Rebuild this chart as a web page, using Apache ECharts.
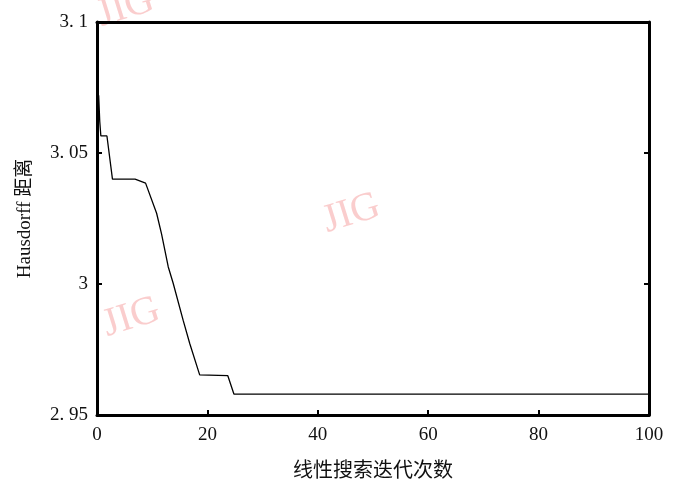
<!DOCTYPE html>
<html>
<head>
<meta charset="utf-8">
<script src="https://cdn.jsdelivr.net/npm/echarts@6/dist/echarts.min.js"></script>
<style>
  html, body { margin: 0; padding: 0; background: #fff; }
  #chart { width: 681px; height: 484px; }
</style>
</head>
<body>
<div id="chart"></div>
<script>
// iteration number and distance (key points of the curve)
var iterations = [0.3, 0.5, 0.7, 1.8, 2.8, 6.9, 8.8, 10.8, 11.7, 12.9, 13.8, 15.6, 16.8, 18.6, 23.7, 24.8, 100];
var distance = [3.072, 3.062, 3.0565, 3.0565, 3.040, 3.040, 3.0385, 3.027, 3.019, 3.0066, 3.0003, 2.9862, 2.9773, 2.9653, 2.9650, 2.958, 2.958];

var serif = '"Liberation Serif", "DejaVu Serif", serif';
var chart = echarts.init(document.getElementById('chart'));

var points = iterations.map(function (x, i) { return [x, distance[i]]; });

function yLabel(v) {
    // the figure prints decimals with a gap after the point
    return String(+v.toFixed(2)).replace('.', '. ');
}

var frame = { show: true, onZero: false, lineStyle: { color: '#000', width: 3 } };
var ticks = { inside: true, length: 5, lineStyle: { color: '#000', width: 2 } };
var mark = 'rgba(242,130,130,0.4)';

chart.setOption({
    animation: false,
    grid: { left: 97, right: 32, top: 22, bottom: 69 },
    xAxis: [{
        type: 'value', min: 0, max: 100, interval: 20,
        axisLine: frame, axisTick: ticks,
        axisLabel: { color: '#111', fontFamily: serif, fontSize: 19, margin: 11 },
        splitLine: { show: false },
        name: '线性搜索迭代次数', nameLocation: 'middle', nameGap: 44,
        nameTextStyle: { color: '#111', fontSize: 20, fontFamily: '"Noto Sans CJK SC", sans-serif' }
    }, {
        type: 'value', position: 'top', min: 0, max: 100, interval: 20,
        axisLine: frame, axisTick: { show: false }, axisLabel: { show: false }, splitLine: { show: false }
    }],
    yAxis: [{
        type: 'value', min: 2.95, max: 3.1, interval: 0.05,
        axisLine: frame, axisTick: ticks,
        axisLabel: { color: '#111', fontFamily: serif, fontSize: 19, margin: 9, formatter: yLabel },
        splitLine: { show: false },
        name: 'Hausdorff 距离', nameLocation: 'middle', nameGap: 62, nameRotate: 90,
        nameTextStyle: { color: '#111', fontSize: 19, fontFamily: '"Liberation Serif", "Noto Sans CJK SC", serif' }
    }, {
        type: 'value', position: 'right', min: 2.95, max: 3.1, interval: 0.05,
        axisLine: frame, axisTick: ticks,
        axisLabel: { show: false }, splitLine: { show: false }
    }],
    graphic: [
        { type: 'text', left: 318, top: 186, rotation: 0.3,
          style: { text: 'JIG', fill: mark, font: '40px "Liberation Serif", serif' } },
        { type: 'text', left: 98, top: 290, rotation: 0.3,
          style: { text: 'JIG', fill: mark, font: '40px "Liberation Serif", serif' } },
        { type: 'text', left: 92, top: -20, rotation: 0.3,
          style: { text: 'JIG', fill: mark, font: '40px "Liberation Serif", serif' } }
    ],
    series: [{
        type: 'line',
        data: points,
        showSymbol: false,
        lineStyle: { color: '#000', width: 1.3 }
    }]
});
</script>
</body>
</html>
